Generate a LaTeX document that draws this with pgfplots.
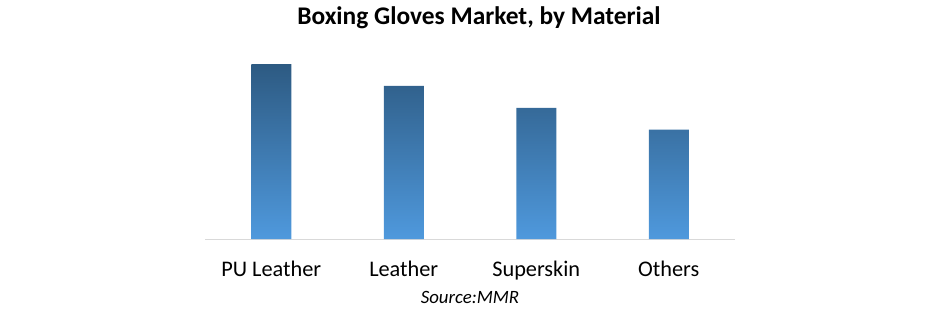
\documentclass[border=0pt]{standalone}
\usepackage{pgfplots}
\pgfplotsset{compat=1.18}
\usepackage{fontspec}
\setmainfont{Carlito}
\definecolor{bartop}{HTML}{2D5A82}
\definecolor{barbot}{HTML}{4F99DD}
\definecolor{axgray}{HTML}{D9D9D9}
\begin{document}
\begin{tikzpicture}[x=1pt,y=1pt]
\useasboundingbox (0,0) rectangle (941,314);
\begin{axis}[
  at={(205pt,75pt)}, anchor=south west,
  scale only axis, width=530pt, height=199pt,
  xmin=-0.5, xmax=3.5, ymin=0, ymax=9.1,
  axis y line=none, axis x line*=bottom,
  x axis line style={axgray, line width=1pt, -},
  xtick={0,1,2,3}, xticklabels={PU Leather,Leather,Superskin,Others},
  major tick length=0pt,
  xticklabel style={font=\fontsize{22.3}{26}\selectfont, anchor=base, yshift=-37pt},
  ytick=\empty,
  ybar, bar width=40pt,
  clip=false,
]
\addplot[draw=none, top color=bartop, bottom color=barbot] coordinates {(0,8) (1,7) (2,6) (3,5)};
\end{axis}
\node[font=\fontsize{25.4}{30}\selectfont\bfseries, anchor=base] at (479,289) {Boxing Gloves Market, by Material};
\node[font=\fontsize{18.8}{22}\selectfont\itshape, anchor=base] at (470,11) {Source:MMR};
\end{tikzpicture}
\end{document}
